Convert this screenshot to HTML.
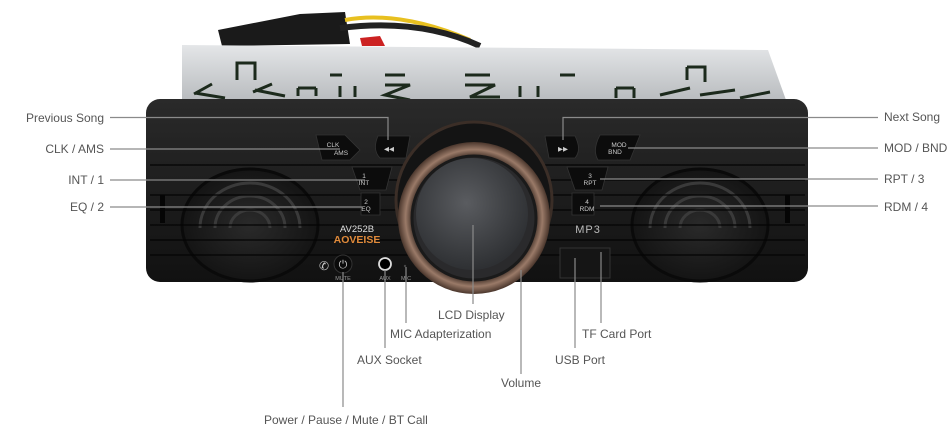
<!DOCTYPE html>
<html><head><meta charset="utf-8"><style>
html,body{margin:0;padding:0;background:#fff;}
svg{display:block;}
text{font-family:"Liberation Sans",sans-serif;}
.lb{font-size:12px;fill:#555;}
.ln{stroke:#8a8a8a;stroke-width:1.2;fill:none;}
.bt{font-size:6.5px;fill:#ccc;text-anchor:middle;}
</style></head><body>
<svg width="950" height="441" viewBox="0 0 950 441" xmlns="http://www.w3.org/2000/svg">
<defs>
<linearGradient id="metal" x1="0" y1="0" x2="0" y2="1"><stop offset="0" stop-color="#e4e6e8"/><stop offset="1" stop-color="#b9bcbf"/></linearGradient>
<linearGradient id="face" x1="0" y1="0" x2="0" y2="1"><stop offset="0" stop-color="#2a2a2a"/><stop offset="1" stop-color="#111"/></linearGradient>
<radialGradient id="lcd" cx="0.45" cy="0.4" r="0.6"><stop offset="0" stop-color="#5a5c60"/><stop offset="1" stop-color="#2e3033"/></radialGradient>
<radialGradient id="ring" cx="0.5" cy="0.5" r="0.5"><stop offset="0.8" stop-color="#3a2a22"/><stop offset="0.9" stop-color="#9a7a68"/><stop offset="1" stop-color="#4a362c"/></radialGradient>
<radialGradient id="spk" cx="0.5" cy="0.5" r="0.5"><stop offset="0" stop-color="#2a2a2a"/><stop offset="1" stop-color="#141414"/></radialGradient>
</defs>
<!-- cable -->
<path d="M218 30 L300 14 L345 12 L350 44 L222 46 Z" fill="#1a1a1a"/>
<path d="M345 20 Q400 10 470 40" stroke="#e8c020" stroke-width="4" fill="none"/>
<path d="M340 28 Q420 18 480 46" stroke="#222" stroke-width="6" fill="none"/>
<path d="M360 38 L380 36 L385 46 L362 46 Z" fill="#c22"/>
<!-- chassis -->
<path d="M182 45 L768 50 L786 100 L182 100 Z" fill="url(#metal)"/>
<g stroke="#1c2a1c" stroke-width="3" fill="none">
<path d="M237 80 L237 63 L255 63 L255 80"/><path d="M195 93 L225 98 M194 94 L212 84"/>
<path d="M255 90 L285 96 M253 92 L272 84"/>
<path d="M298 88 L298 96 M316 88 L316 96 M298 88 L316 88"/>
<path d="M330 75 L342 75 M340 86 L340 97 M355 86 L355 97"/>
<path d="M385 75 L405 75 M385 85 L410 85 L385 95 L410 100"/>
<path d="M465 75 L490 75 M465 85 L495 85 L470 97 L500 97"/>
<path d="M520 86 L520 97 M538 86 L538 97 M560 75 L575 75"/>
<path d="M616 88 L616 98 M634 88 L634 98 M616 88 L634 88"/>
<path d="M687 67 L705 67 L705 82 M687 67 L687 80"/><path d="M660 95 L690 88 M700 95 L735 90 M740 98 L770 92"/>
</g>
<!-- faceplate -->
<rect x="146" y="99" width="662" height="183" rx="14" fill="url(#face)"/>
<!-- speakers -->
<ellipse cx="250" cy="225" rx="68" ry="56" fill="url(#spk)" stroke="#0a0a0a" stroke-width="3"/>
<ellipse cx="700" cy="225" rx="68" ry="56" fill="url(#spk)" stroke="#0a0a0a" stroke-width="3"/>
<g fill="none" stroke="#3a3a3a" stroke-width="3">
<path d="M200 228 A50 45 0 0 1 300 228"/><path d="M215 228 A35 32 0 0 1 285 228"/><path d="M230 228 A20 18 0 0 1 270 228"/>
<path d="M650 228 A50 45 0 0 1 750 228"/><path d="M665 228 A35 32 0 0 1 735 228"/><path d="M680 228 A20 18 0 0 1 720 228"/>
</g>
<g stroke="#050505" stroke-width="1.5" opacity="0.85">
<line x1="150" y1="165" x2="805" y2="165"/><line x1="150" y1="180" x2="805" y2="180"/><line x1="150" y1="195" x2="805" y2="195"/><line x1="150" y1="210" x2="805" y2="210"/><line x1="150" y1="225" x2="805" y2="225"/><line x1="150" y1="240" x2="805" y2="240"/><line x1="150" y1="255" x2="805" y2="255"/>
</g>
<rect x="160" y="195" width="5" height="28" fill="#050505"/><rect x="785" y="195" width="5" height="28" fill="#050505"/>
<!-- buttons -->
<g fill="#0c0c0c" stroke="#333" stroke-width="0.8">
<path d="M316 135 L345 135 L360 150 L350 160 L322 160 Z"/>
<path d="M378 136 L410 136 L406 158 L380 158 Q372 150 378 136 Z"/>
<path d="M352 167 L392 167 L386 190 L360 190 Z"/>
<path d="M361 193 L380 193 L380 215 L361 215 Z"/>
<path d="M545 136 L575 136 Q582 150 575 158 L549 158 Z"/>
<path d="M600 135 L640 135 L630 160 L598 160 Q592 150 600 135 Z"/>
<path d="M567 167 L608 167 L602 190 L575 190 Z"/>
<path d="M572 193 L594 193 L594 215 L572 215 Z"/>
</g>
<text class="bt" x="333" y="147">CLK</text><text class="bt" x="341" y="155">AMS</text>
<text class="bt" x="389" y="151">◀◀</text>
<text class="bt" x="364" y="178">1</text><text class="bt" x="364" y="185">INT</text>
<text class="bt" x="366" y="204">2</text><text class="bt" x="366" y="211">EQ</text>
<text class="bt" x="563" y="151">▶▶</text>
<text class="bt" x="619" y="147">MOD</text><text class="bt" x="615" y="154">BND</text>
<text class="bt" x="590" y="178">3</text><text class="bt" x="590" y="185">RPT</text>
<text class="bt" x="587" y="204">4</text><text class="bt" x="587" y="211">RDM</text>
<!-- knob -->
<circle cx="474" cy="200" r="78" fill="#141414" stroke="#3b2e27" stroke-width="3"/>
<circle cx="474" cy="218" r="76" fill="url(#ring)"/>
<circle cx="474" cy="218" r="62" fill="#2a2a2c" stroke="#1a1a1a" stroke-width="3"/>
<circle cx="472" cy="214" r="56" fill="url(#lcd)"/>
<!-- brand -->
<text x="357" y="232" font-size="9.5" fill="#ddd" text-anchor="middle">AV252B</text>
<text x="357" y="243" font-size="10.5" font-weight="bold" fill="#e08a3a" text-anchor="middle">AOVEISE</text>
<text x="588" y="233" font-size="11" fill="#bbb" text-anchor="middle" letter-spacing="1">MP3</text>
<rect x="560" y="248" width="50" height="30" fill="#151515" stroke="#333"/>
<!-- power/aux/mic -->
<circle cx="343" cy="264" r="9" fill="#0a0a0a" stroke="#333"/>
<text x="343" y="268" font-size="11" fill="#ccc" text-anchor="middle">⏻</text>
<text x="319" y="270" font-size="12" fill="#ccc">✆</text>
<circle cx="385" cy="264" r="6" fill="#000" stroke="#ddd" stroke-width="1.8"/>
<circle cx="405" cy="266" r="1.2" fill="#444"/>
<text x="343" y="280" font-size="5.5" fill="#999" text-anchor="middle">MUTE</text>
<text x="385" y="280" font-size="5.5" fill="#999" text-anchor="middle">AUX</text>
<text x="406" y="280" font-size="5.5" fill="#999" text-anchor="middle">MIC</text>
<!-- leader lines -->
<g class="ln">
<path d="M110 117.5 L388 117.5 L388 140"/>
<path d="M110 149 L340 149"/>
<path d="M110 180 L365 180"/>
<path d="M110 207 L363 207"/>
<path d="M878 117.5 L563 117.5 L563 140"/>
<path d="M878 148 L628 148"/>
<path d="M878 179 L600 179"/>
<path d="M878 206 L600 206"/>
<path d="M343 272 L343 407"/>
<path d="M385 270 L385 348"/>
<path d="M406 267 L406 323"/>
<path d="M473 225 L473 304"/>
<path d="M521 270 L521 374"/>
<path d="M575 258 L575 348"/>
<path d="M601 252 L601 323"/>
</g>
<!-- labels -->
<g class="lb">
<text x="104" y="122" text-anchor="end">Previous Song</text>
<text x="104" y="153" text-anchor="end">CLK / AMS</text>
<text x="104" y="184" text-anchor="end">INT / 1</text>
<text x="104" y="211" text-anchor="end">EQ / 2</text>
<text x="884" y="121">Next Song</text>
<text x="884" y="152">MOD / BND</text>
<text x="884" y="183">RPT / 3</text>
<text x="884" y="211">RDM / 4</text>
<text x="264" y="424">Power / Pause / Mute / BT Call</text>
<text x="357" y="364">AUX Socket</text>
<text x="390" y="338">MIC Adapterization</text>
<text x="438" y="319">LCD Display</text>
<text x="501" y="387">Volume</text>
<text x="555" y="364">USB Port</text>
<text x="582" y="338">TF Card Port</text>
</g>
</svg>
</body></html>
